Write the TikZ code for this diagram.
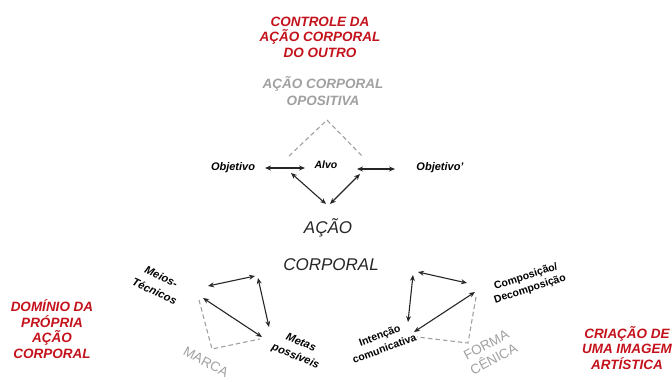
\documentclass[tikz,border=0pt]{standalone}
\usepackage{fontspec}
\setmainfont{Liberation Sans}
\usepackage{xcolor}
\usetikzlibrary{arrows.meta}
\definecolor{titlered}{RGB}{196,18,28}
\definecolor{opgray}{RGB}{160,160,160}

\begin{document}
\begin{tikzpicture}[x=1pt,y=-1pt,
    redtitle/.style={text=titlered, align=center, font=\fontsize{13.5}{15.5}\selectfont\bfseries\itshape},
    graytitle/.style={text=opgray, align=center, font=\fontsize{13.5}{17}\selectfont\bfseries\itshape},
    graymark/.style={text=opgray, align=center, font=\fontsize{13.5}{16}\selectfont},
    itemlabel/.style={align=center, font=\fontsize{11}{16}\selectfont\bfseries\itshape},
    uplabel/.style={align=center, font=\fontsize{10.5}{14}\selectfont\bfseries},
    biglabel/.style={font=\fontsize{17}{20}\selectfont\itshape, text=black!85},
    twoway/.style={{Stealth[length=6pt,width=5pt]}-{Stealth[length=6pt,width=5pt]}, line width=1.1pt, black!85},
    dashframe/.style={opgray, line width=1.1pt, dash pattern=on 4.5pt off 3pt}]
    \useasboundingbox (0,0) rectangle (672,381);

    % Top group
    \node[redtitle] (controle) at (320,37) {CONTROLE DA\\AÇÃO CORPORAL\\DO OUTRO};
    \node[graytitle] (opositiva) at (323,91.5) {AÇÃO CORPORAL\\OPOSITIVA};
    \node[itemlabel] (objetivo) at (233,168) {Objetivo};
    \node[itemlabel, font=\fontsize{10.5}{13}\selectfont\bfseries\itshape] (alvo) at (326,165) {Alvo};
    \node[itemlabel] (objetivob) at (440,168) {Objetivo'};

    \coordinate (opL) at (289,156);
    \coordinate (opT) at (327,120);
    \coordinate (opR) at (363,157);
    \draw[dashframe] (opL) -- (opT) -- (opR);

    \coordinate (objA) at (265,168);
    \coordinate (alvoA) at (305,168);
    \coordinate (alvoB) at (357,169);
    \coordinate (objB) at (395,169);
    \draw[twoway] (objA) -- (alvoA);
    \draw[twoway] (alvoB) -- (objB);

    \coordinate (alvoL) at (291,173);
    \coordinate (alvoR) at (360,174);
    \coordinate (acaoL) at (326,204);
    \coordinate (acaoR) at (330,204);
    \draw[twoway] (alvoL) -- (acaoL);
    \draw[twoway] (alvoR) -- (acaoR);

    % Centre
    \node[biglabel] (acao) at (328,228) {AÇÃO};
    \node[biglabel] (corporal) at (331,265) {CORPORAL};

    % Left group
    \node[redtitle] (dominio) at (52,329) {DOMÍNIO DA\\PRÓPRIA\\AÇÃO\\CORPORAL};
    \node[itemlabel, rotate=-25] (meios) at (158,284) {Meios-\\Técnicos};
    \node[itemlabel, rotate=-22, font=\fontsize{11}{14.5}\selectfont\bfseries\itshape] (metas) at (298,350) {Metas\\possíveis};
    \node[graymark, rotate=-28] (marca) at (206,362) {MARCA};

    \coordinate (mtA) at (208,286);
    \coordinate (mtB) at (255,276);
    \coordinate (mtC) at (258,278);
    \coordinate (mtD) at (269,327);
    \coordinate (mtE) at (203,298);
    \coordinate (mtF) at (262,337);
    \draw[twoway] (mtA) -- (mtB);
    \draw[twoway] (mtC) -- (mtD);
    \draw[twoway] (mtE) -- (mtF);

    \coordinate (mkA) at (199,300);
    \coordinate (mkB) at (212,349);
    \coordinate (mkC) at (260,339);
    \draw[dashframe] (mkA) -- (mkB) -- (mkC);

    % Right group
    \node[redtitle] (criacao) at (627,348) {CRIAÇÃO DE\\UMA IMAGEM\\ARTÍSTICA};
    \node[uplabel, rotate=18, font=\fontsize{10.5}{13}\selectfont\bfseries] (composicao) at (528,283) {Composição/\\Decomposição};
    \node[uplabel, rotate=20] (intencao) at (382,342) {Intenção\\comunicativa};
    \node[graymark, rotate=28] (forma) at (490,352) {FORMA\\CÊNICA};

    \coordinate (icA) at (418,272);
    \coordinate (icB) at (467,283);
    \coordinate (icC) at (413,275);
    \coordinate (icD) at (408,322);
    \coordinate (icE) at (475,292);
    \coordinate (icF) at (414,332);
    \draw[twoway] (icA) -- (icB);
    \draw[twoway] (icC) -- (icD);
    \draw[twoway] (icE) -- (icF);

    \coordinate (fcA) at (476,297);
    \coordinate (fcB) at (468,343);
    \coordinate (fcC) at (417,337);
    \draw[dashframe] (fcA) -- (fcB) -- (fcC);
\end{tikzpicture}
\end{document}
